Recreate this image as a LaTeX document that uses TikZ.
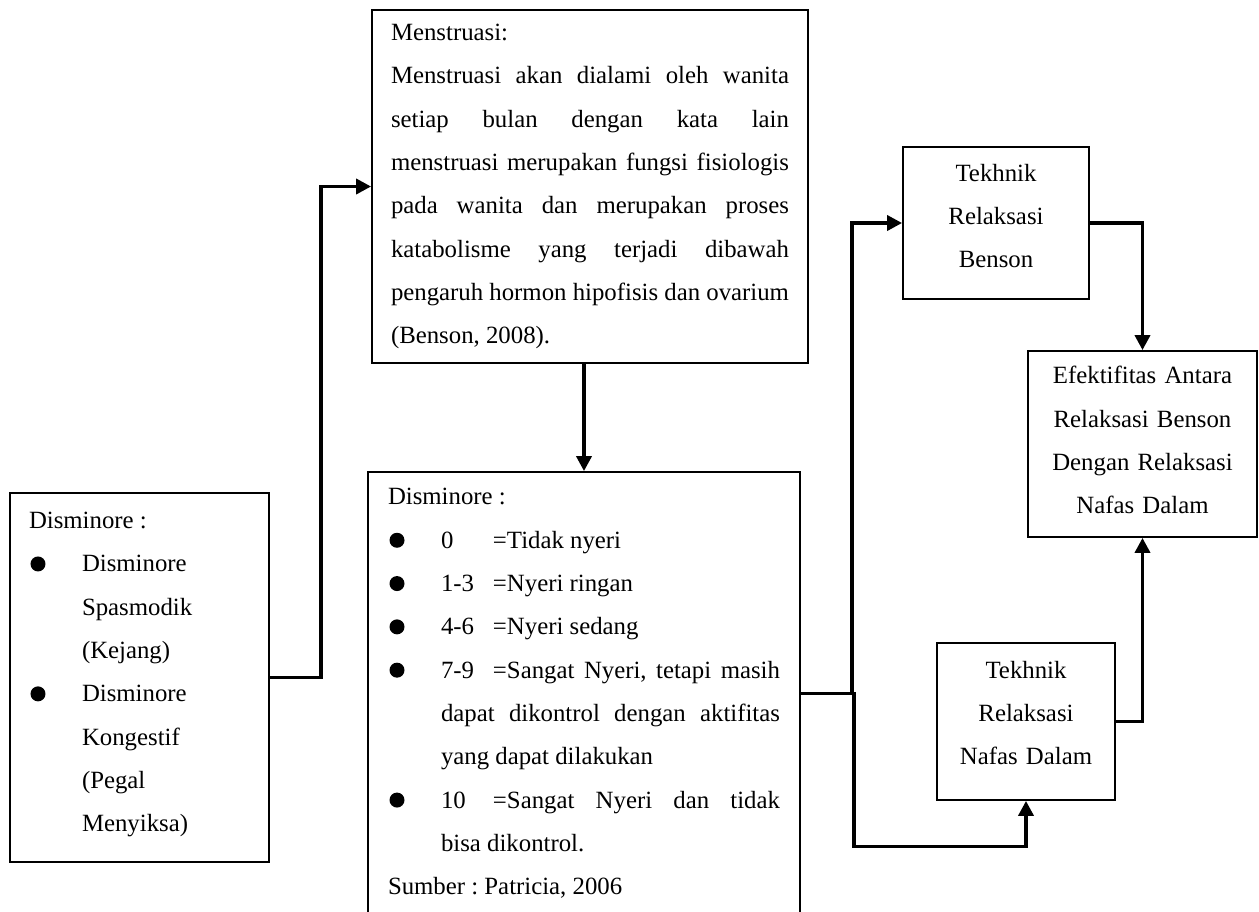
\documentclass[tikz,border=0pt]{standalone}
\usepackage{fontspec}
\setmainfont{Liberation Serif}
\usetikzlibrary{arrows.meta}

\newcommand{\dotmark}{\tikz[baseline=-8pt]\fill (0,0) circle[radius=7.5pt];}
\newcommand{\bul}{\makebox[53pt][l]{\hspace{1.5pt}\dotmark}}
\newcommand{\skipin}{\hspace*{53pt}}
\newcommand{\score}[1]{\makebox[52pt][l]{#1}}
\newcommand{\botgap}[1]{\rule[-#1]{0pt}{#1}}

\begin{document}
\begin{tikzpicture}[x=1pt, y=-1pt, >={Triangle[length=15pt,width=15pt]},
    box/.style={draw, line width=1.8pt, inner ysep=2pt,
      font=\fontsize{24.8pt}{43.3pt}\selectfont\frenchspacing},
    conn/.style={->, line width=3.6pt}]
  \useasboundingbox (0,0) rectangle (1259,911);

  \node [box, minimum width=259pt, minimum height=369pt, text width=221pt,
    inner xsep=19pt, align=flush left] (types) at (139.5,677.5)
    {Disminore :\\
     \bul Disminore\\
     \skipin Spasmodik\\
     \skipin (Kejang)\\
     \bul Disminore\\
     \skipin Kongestif\\
     \skipin (Pegal\\
     \skipin Menyiksa)\botgap{11pt}};
  \node [box, minimum width=436pt, minimum height=353pt, text width=398pt,
    inner xsep=19pt, align=justify] (mens) at (590,186.5)
    {Menstruasi:\\
     Menstruasi akan dialami oleh wanita \linebreak
     setiap bulan dengan kata lain \linebreak
     menstruasi merupakan fungsi fisiologis \linebreak
     pada wanita dan merupakan proses \linebreak
     katabolisme yang terjadi dibawah \linebreak
     pengaruh hormon hipofisis dan ovarium \linebreak
     (Benson, 2008).};
  \node [box, minimum width=432pt, minimum height=443pt, text width=392pt,
    inner xsep=20pt, align=flush left] (pain) at (584,693.5)
    {Disminore :\\
     \bul\score{0}=Tidak nyeri\\
     \bul\score{1-3}=Nyeri ringan\\
     \bul\score{4-6}=Nyeri sedang\\
     \bul\score{7-9}\makebox[287pt][s]{=Sangat Nyeri, tetapi masih}\\
     \skipin\makebox[339pt][s]{dapat dikontrol dengan aktifitas}\\
     \skipin yang dapat dilakukan\\
     \bul\score{10}\makebox[287pt][s]{=Sangat Nyeri dan tidak}\\
     \skipin bisa dikontrol.\\
     Sumber : Patricia, 2006};
  \node [box, minimum width=186pt, minimum height=152pt, text width=160pt,
    inner xsep=13pt, align=center] (benson) at (996,223)
    {Tekhnik\\ Relaksasi\\ Benson\botgap{14pt}};
  \node [box, minimum width=178pt, minimum height=157pt, text width=150pt,
    inner xsep=14pt, align=center] (nafas) at (1026,721.5)
    {Tekhnik\\ Relaksasi\\ Nafas Dalam\botgap{17pt}};
  \node [box, minimum width=229pt, minimum height=186pt, text width=201pt,
    inner xsep=14pt, align=center] (efek) at (1142.5,444)
    {Efektifitas Antara\\ Relaksasi Benson\\ Dengan Relaksasi\\
     Nafas Dalam\botgap{8pt}};

  \draw [conn] (types.east) -- ++(51,0) |- (mens.west);
  \draw [conn] (pain.north |- mens.south) -- (pain.north);
  \draw [conn] (pain.east) -- ++(51,0) |- (benson.west);
  \draw [conn] (pain.east) -- ++(53,0) -- ++(0,153) -| (nafas.south);
  \draw [conn] (benson.east) -| (efek.north);
  \draw [conn] (nafas.east) -| (efek.south);
\end{tikzpicture}
\end{document}
